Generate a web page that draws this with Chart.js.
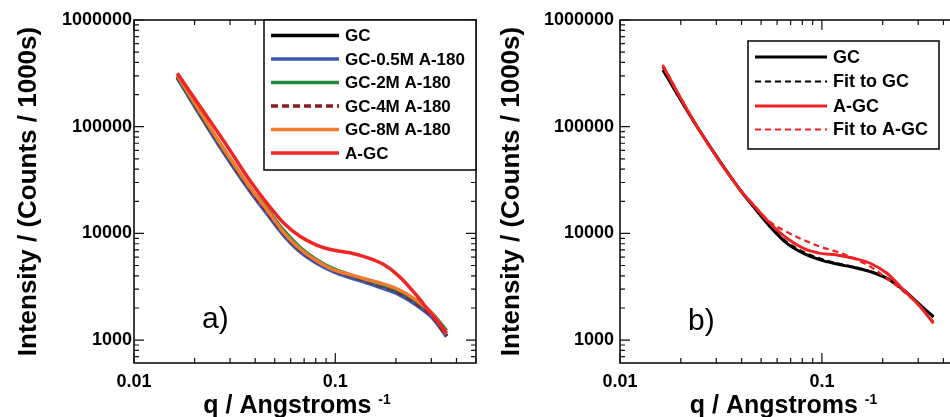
<!DOCTYPE html>
<html>
<head>
<meta charset="utf-8">
<script src="https://cdn.jsdelivr.net/npm/chart.js@4.4.1/dist/chart.umd.min.js"></script>
<style>
  html, body { margin: 0; padding: 0; background: #fff; overflow: hidden; }
  #wrap { position: relative; width: 950px; height: 417px; overflow: hidden; }
  #chartA { position: absolute; left: 0; top: 0; }
  #chartB { position: absolute; left: 480px; top: 0; }
</style>
</head>
<body>
<div id="wrap">
  <canvas id="chartA" width="480" height="417"></canvas>
  <canvas id="chartB" width="490" height="417"></canvas>
</div>
<script>
// ---- panel a: scattering curves of the treated samples ----
const qA = [0.0164, 0.0263, 0.0378, 0.0456, 0.0552, 0.0667, 0.0807, 0.0976, 0.118, 0.1427, 0.1725, 0.2086, 0.2523, 0.305, 0.357];
const gcA     = [291000, 69300, 25400, 15900, 9980, 6960, 5420, 4520, 3980, 3560, 3150, 2740, 2200, 1630, 1090];
const gc05M   = [285000, 67800, 24600, 15400, 9660, 6730, 5250, 4380, 3850, 3450, 3055, 2650, 2130, 1600, 1077];
const gc2M    = [298000, 72300, 26800, 17200, 10760, 7420, 5660, 4670, 4110, 3680, 3290, 2890, 2320, 1760, 1225];
const gc4M    = [294000, 70000, 25700, 16100, 10080, 7030, 5480, 4570, 4020, 3600, 3190, 2770, 2220, 1650, 1100];
const gc8M    = [304000, 73900, 26800, 16800, 10300, 7180, 5540, 4570, 4110, 3720, 3370, 2950, 2370, 1745, 1150];
const qAgcA   = [0.0164, 0.0277, 0.0378, 0.0474, 0.0552, 0.0667, 0.0807, 0.0976, 0.118, 0.1427, 0.1725, 0.2086, 0.2523, 0.2937, 0.329, 0.357];
const agcA    = [317000, 75000, 31000, 17600, 12600, 9400, 7780, 6980, 6590, 5970, 5160, 3930, 2650, 1846, 1435, 1160];

// ---- panel b: data and model fits ----
const qB = [0.0163, 0.0241, 0.0394, 0.0458, 0.0554, 0.0671, 0.0811, 0.0982, 0.1187, 0.1435, 0.1735, 0.2099, 0.254, 0.307, 0.357];
const gcB     = [340000, 100000, 25500, 17800, 11570, 8070, 6500, 5640, 5160, 4810, 4380, 3790, 2950, 2130, 1655];
const fitGcB  = [360000, 100000, 25500, 17900, 11800, 8300, 6700, 5800, 5250, 4850, 4400, 3800, 2950, 2130, 1640];
const agcB    = [370000, 100000, 25500, 18400, 12440, 9000, 7240, 6500, 6280, 5850, 5250, 4230, 2950, 2055, 1435];
const fitAgcB = [380000, 100000, 25500, 18600, 12800, 10300, 8670, 7500, 6730, 5850, 4880, 3790, 2850, 2055, 1490];

const yTicks = [1000, 10000, 100000, 1000000];
const xTicks = [0.01, 0.1];

const FONT = '"Liberation Sans", Arial, Helvetica, sans-serif';
Chart.defaults.font.family = FONT;
Chart.defaults.color = '#000';

const pts = (xs, ys) => xs.map((x, i) => ({ x: x, y: ys[i] }));
const isDecade = v => Math.abs(Math.log10(v) - Math.round(Math.log10(v))) < 1e-6;

// all 1..9 x 10^n positions between min and max
function logSteps(min, max) {
  const out = [];
  for (let e = Math.floor(Math.log10(min)); e <= Math.ceil(Math.log10(max)); e++) {
    for (let m = 1; m < 10; m++) {
      const v = m * Math.pow(10, e);
      if (v >= min * 0.9999 && v <= max * 1.0001) out.push(v);
    }
  }
  return out;
}

// box frame with inward ticks on all four sides, x title with superscript, panel tag
const axisFrame = {
  id: 'axisFrame',
  afterDatasetsDraw(chart, args, o) {
    const { ctx, chartArea: a, scales: { x, y } } = chart;
    ctx.save();
    ctx.strokeStyle = '#111';
    ctx.lineWidth = 1.2;
    ctx.beginPath();
    logSteps(x.min, x.max).forEach(v => {
      const px = x.getPixelForValue(v);
      const len = isDecade(v) ? 10 : 5;
      ctx.moveTo(px, a.bottom); ctx.lineTo(px, a.bottom - len);
      ctx.moveTo(px, a.top); ctx.lineTo(px, a.top + len);
    });
    logSteps(y.min, y.max).forEach(v => {
      const py = y.getPixelForValue(v);
      const len = isDecade(v) ? 10 : 5;
      ctx.moveTo(a.left, py); ctx.lineTo(a.left + len, py);
      ctx.moveTo(a.right, py); ctx.lineTo(a.right - len, py);
    });
    ctx.stroke();
    ctx.lineWidth = 1.6;
    ctx.strokeRect(a.left, a.top, a.right - a.left, a.bottom - a.top);

    // x axis title: q / Angstroms ^-1
    ctx.fillStyle = '#000';
    ctx.textBaseline = 'alphabetic';
    ctx.font = 'bold 25px ' + FONT;
    const main = 'q / Angstroms ';
    const wMain = ctx.measureText(main).width;
    ctx.font = 'bold 14px ' + FONT;
    const wSup = ctx.measureText('-1').width;
    const x0 = (a.left + a.right) / 2 - 8 - (wMain + wSup) / 2;
    ctx.font = 'bold 25px ' + FONT;
    ctx.fillText(main, x0, 413);
    ctx.font = 'bold 14px ' + FONT;
    ctx.fillText('-1', x0 + wMain, 404);

    // panel tag
    ctx.font = '30px ' + FONT;
    ctx.fillText(o.tag, o.tagX, o.tagY);
    ctx.restore();
  }
};

// boxed legend built from the datasets
const boxLegend = {
  id: 'boxLegend',
  afterDraw(chart, args, o) {
    const ctx = chart.ctx;
    ctx.save();
    ctx.fillStyle = '#fff';
    ctx.fillRect(o.x, o.y, o.w, o.h);
    ctx.strokeStyle = '#111';
    ctx.lineWidth = 1.6;
    ctx.strokeRect(o.x, o.y, o.w, o.h);
    ctx.font = 'bold ' + o.fontSize + 'px ' + FONT;
    ctx.textBaseline = 'middle';
    chart.data.datasets.forEach((ds, i) => {
      const ry = o.rowY[i];
      ctx.strokeStyle = ds.borderColor;
      ctx.lineWidth = ds.borderWidth;
      ctx.setLineDash(ds.borderDash || []);
      ctx.beginPath();
      ctx.moveTo(o.lineX0, ry);
      ctx.lineTo(o.lineX1, ry);
      ctx.stroke();
      ctx.setLineDash([]);
      ctx.fillStyle = '#000';
      ctx.fillText(ds.label, o.textX, ry + 1);
    });
    ctx.restore();
  }
};

function line(label, data, color, width, order, dash) {
  return {
    label: label,
    data: data,
    borderColor: color,
    borderWidth: width,
    borderDash: dash || [],
    pointRadius: 0,
    fill: false,
    cubicInterpolationMode: 'monotone',
    order: order
  };
}

function options(yAxisWidth, tickPad, titlePad, rightPad, tag, legend) {
  return {
    responsive: false,
    animation: false,
    devicePixelRatio: 1,
    layout: { padding: { left: 0, right: rightPad, top: 20, bottom: 0 } },
    plugins: {
      legend: { display: false },
      tooltip: { enabled: false },
      axisFrame: tag,
      boxLegend: legend
    },
    scales: {
      x: {
        type: 'logarithmic',
        min: 0.01,
        max: 0.5,
        grid: { display: false, drawTicks: false },
        border: { display: false },
        afterBuildTicks: s => { s.ticks = xTicks.map(v => ({ value: v })); },
        afterFit: s => { s.height = 54; },
        ticks: {
          autoSkip: false,
          maxRotation: 0,
          padding: 8,
          font: { size: 18, weight: 'bold' },
          color: '#000',
          callback: v => String(v)
        }
      },
      y: {
        type: 'logarithmic',
        min: 610,
        max: 1000000,
        grid: { display: false, drawTicks: false },
        border: { display: false },
        afterBuildTicks: s => { s.ticks = yTicks.map(v => ({ value: v })); },
        afterFit: s => { s.width = yAxisWidth; },
        title: {
          display: true,
          text: 'Intensity / (Counts / 1000s)',
          font: { size: 26, weight: 'bold' },
          color: '#000',
          padding: { top: titlePad, bottom: 0 }
        },
        ticks: {
          autoSkip: false,
          padding: tickPad,
          font: { size: 18, weight: 'bold' },
          color: '#000',
          callback: v => String(v)
        }
      }
    }
  };
}

new Chart(document.getElementById('chartA'), {
  type: 'line',
  data: {
    datasets: [
      line('GC', pts(qA, gcA), '#000000', 3.5, 6),
      line('GC-0.5M A-180', pts(qA, gc05M), '#3a58b4', 3.5, 5),
      line('GC-2M A-180', pts(qA, gc2M), '#1f8a3c', 3.5, 3),
      line('GC-4M A-180', pts(qA, gc4M), '#8c1c1c', 3.5, 4, [7, 4]),
      line('GC-8M A-180', pts(qA, gc8M), '#f27a2e', 3.5, 2),
      line('A-GC', pts(qAgcA, agcA), '#ee2626', 3.5, 1)
    ]
  },
  options: options(134, 2, 13, 4,
    { tag: 'a)', tagX: 202, tagY: 328 },
    { x: 264, y: 20, w: 212, h: 150, rowY: [35.5, 59, 82.5, 106, 129.5, 153],
      lineX0: 271, lineX1: 339, textX: 345, fontSize: 17 }),
  plugins: [axisFrame, boxLegend]
});

new Chart(document.getElementById('chartB'), {
  type: 'line',
  data: {
    datasets: [
      line('GC', pts(qB, gcB), '#000000', 3, 4),
      line('Fit to GC', pts(qB, fitGcB), '#000000', 2.2, 3, [6, 4]),
      line('A-GC', pts(qB, agcB), '#ee2222', 3, 2),
      line('Fit to A-GC', pts(qB, fitAgcB), '#ee2222', 2.2, 1, [6, 4])
    ]
  },
  options: options(140, 6, 16, 7,
    { tag: 'b)', tagX: 208, tagY: 330 },
    { x: 268, y: 41, w: 191, h: 108, rowY: [57, 81.5, 106, 129.5],
      lineX0: 275, lineX1: 347, textX: 353, fontSize: 18 }),
  plugins: [axisFrame, boxLegend]
});
</script>
</body>
</html>
